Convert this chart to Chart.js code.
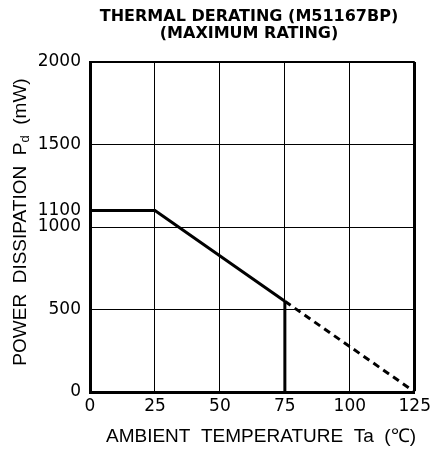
<!DOCTYPE html>
<html><head><meta charset="utf-8">
<script src="https://cdn.jsdelivr.net/npm/chart.js@4"></script>
<style>html,body{margin:0;padding:0;background:#fff}#w{width:435px;height:454px}</style>
</head><body><div id="w"><canvas id="c" width="435" height="454"></canvas></div>
<script>
// Data
const ratedTemps = [0, 25, 75];
const ratedPower = [1100, 1100, 550];
const deratedTemps = [75, 125];
const deratedPower = [550, 0];
const cutoffTemps = [75, 75];
const cutoffPower = [550, 0];
const xTicks = [0, 25, 50, 75, 100, 125];
const yTicks = [0, 500, 1000, 1100, 1500, 2000];
const titleLines = ['THERMAL DERATING (M51167BP)', '(MAXIMUM RATING)'];
const xTitle = 'AMBIENT  TEMPERATURE  Ta  (\u2103)';
const yTitleMain = 'POWER  DISSIPATION  P';
const yTitleSub = 'd';
const yTitleTail = '  (mW)';

const pts = (xs, ys) => xs.map((x, i) => ({x, y: ys[i]}));
const SANS = '"Liberation Sans", Arial, sans-serif';
const DJ = '"DejaVu Sans", sans-serif';

const textPlugin = {
  id: 'texts',
  afterDraw(chart) {
    const ctx = chart.ctx;
    ctx.save();
    ctx.fillStyle = '#000';
    ctx.textAlign = 'center';
    ctx.textBaseline = 'middle';
    ctx.font = 'bold 16px ' + DJ;
    ctx.fillText(titleLines[0], 249, 17);
    ctx.fillText(titleLines[1], 249, 34);
    ctx.font = '19px ' + SANS;
    ctx.fillText(xTitle, 261, 437);
    // y title rotated with subscript
    ctx.translate(21, 222);
    ctx.rotate(-Math.PI / 2);
    const f1 = '19px ' + SANS;
    const f2 = '13px ' + SANS;
    ctx.font = f1; const w1 = ctx.measureText(yTitleMain).width, w3 = ctx.measureText(yTitleTail).width;
    ctx.font = f2; const w2 = ctx.measureText(yTitleSub).width;
    let x = -(w1 + w2 + w3) / 2;
    ctx.textAlign = 'left';
    ctx.font = f1; ctx.fillText(yTitleMain, x, 0); x += w1;
    ctx.font = f2; ctx.fillText(yTitleSub, x, 4); x += w2;
    ctx.font = f1; ctx.fillText(yTitleTail, x, 0);
    ctx.restore();
  }
};

new Chart(document.getElementById('c'), {
  type: 'scatter',
  data: {
    datasets: [
      {data: pts(ratedTemps, ratedPower), showLine: true, borderColor: '#000', borderWidth: 3, pointRadius: 0, clip: false},
      {data: pts(deratedTemps, deratedPower), showLine: true, borderColor: '#000', borderWidth: 3, borderDash: [7, 5], pointRadius: 0, clip: false},
      {data: pts(cutoffTemps, cutoffPower), showLine: true, borderColor: '#000', borderWidth: 3, pointRadius: 0, clip: false}
    ]
  },
  options: {
    responsive: false,
    animation: false,
    events: [],
    layout: {padding: {left: 0, right: 19, top: 62, bottom: 0}},
    plugins: {legend: {display: false}, tooltip: {enabled: false}, title: {display: false}},
    scales: {
      x: {
        type: 'linear', min: 0, max: 125,
        afterBuildTicks: s => { s.ticks = xTicks.map(v => ({value: v})); },
        afterFit: s => { s.height = 62; },
        border: {display: true, width: 3, color: '#000'},
        grid: {color: '#000', lineWidth: c => (c.tick && c.tick.value === 125) ? 3 : 1, drawTicks: false},
        ticks: {color: '#000', padding: 4, maxRotation: 0, autoSkip: false, callback: v => String(v), font: {family: DJ, size: 17}}
      },
      y: {
        type: 'linear', min: 0, max: 2000,
        afterBuildTicks: s => { s.ticks = yTicks.map(v => ({value: v})); },
        afterFit: s => { s.width = 90; },
        border: {display: true, width: 3, color: '#000'},
        grid: {
          color: c => (c.tick && c.tick.value === 1100) ? 'rgba(0,0,0,0)' : '#000',
          lineWidth: c => (c.tick && c.tick.value === 2000) ? 2 : 1,
          drawTicks: false
        },
        ticks: {color: '#000', padding: 9, autoSkip: false, callback: v => String(v), font: {family: DJ, size: 17}}
      }
    }
  },
  plugins: [textPlugin]
});
</script></body></html>
